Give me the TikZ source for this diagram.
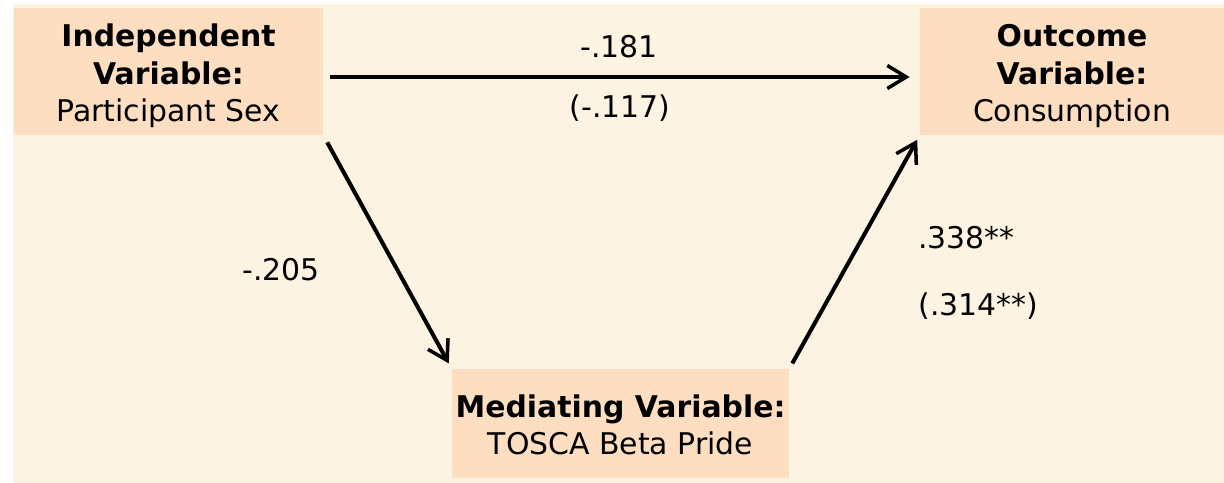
\documentclass[tikz,border=0pt]{standalone}
\usepackage{fontspec}
\setmainfont{DejaVu Sans}
\usetikzlibrary{arrows.meta}
\definecolor{medbg}{RGB}{253,243,226}
\definecolor{medbox}{RGB}{253,222,193}
\tikzset{
  med box/.style={
    fill=medbox,draw=none,inner sep=0pt,
    font=\fontsize{17}{21.5}\selectfont
  },
  med edge/.style={black,line width=2.3pt,
    -{Straight Barb[length=0.38cm,width=0.46cm,line width=2pt]}},
  med coef/.style={font=\fontsize{17}{21.5}\selectfont,inner sep=0pt}
}
% text lowered a little inside its box
\newcommand{\medtext}[1]{\raisebox{0pt}[\dimexpr\height+0.2cm\relax][\depth]{%
  \begin{tabular}{@{}c@{}}#1\end{tabular}}}

\begin{document}
\begin{tikzpicture}[x=0.02cm,y=-0.02cm]
  \useasboundingbox (0,0) rectangle (1224,483);
  \fill[white] (0,0) rectangle (1224,483);
  \fill[medbg] (13,4) rectangle (1224,483);
  \node[med box,minimum width=309*0.02cm,minimum height=127*0.02cm] (iv) at (168.5,71.5)
    {\medtext{\textbf{Independent}\\\textbf{Variable:}\\Participant Sex}};
  \node[med box,minimum width=304*0.02cm,minimum height=127*0.02cm] (ov) at (1072,71.5)
    {\medtext{\textbf{Outcome}\\\textbf{Variable:}\\Consumption}};
  \node[med box,minimum width=337*0.02cm,minimum height=109*0.02cm] (mv) at (620.5,423.5)
    {\medtext{\textbf{Mediating Variable:}\\TOSCA Beta Pride}};
  \draw[med edge,shorten <=0.14cm,shorten >=0.2cm]
    ([yshift=-0.11cm]iv.east) -- ([yshift=-0.11cm]ov.west);
  \draw[med edge,shorten <=0.16cm,shorten >=0.12cm] (iv.south east) -- (mv.north west);
  \draw[med edge,shorten <=0.12cm,shorten >=0.1cm] (mv.north east) -- (ov.south west);
  \node[med coef] (c) at (619,47) {-.181};
  \node[med coef] (cp) at (620,108) {(-.117)};
  \node[med coef] (a) at (281,270) {-.205};
  \node[med coef,anchor=west] (b) at (918,238) {.338**};
  \node[med coef,anchor=west] (bp) at (918,306) {(.314**)};
\end{tikzpicture}
\end{document}
